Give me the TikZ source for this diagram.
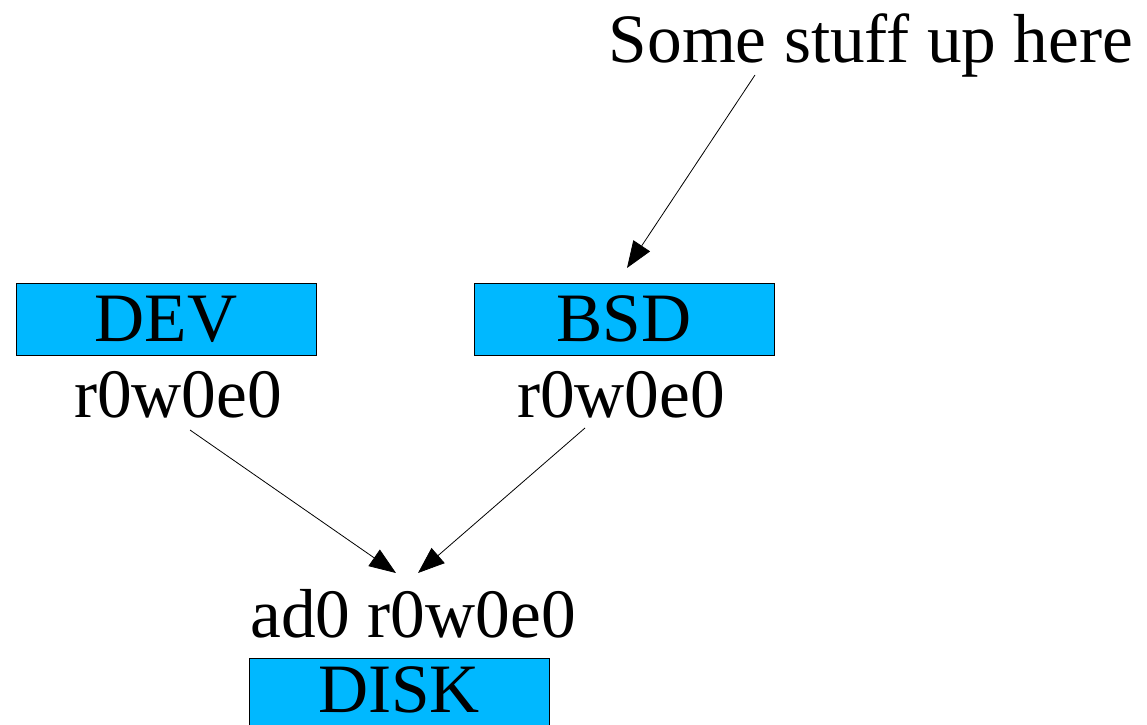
\documentclass[tikz,border=0pt]{standalone}
\usepackage{fontspec}
\setmainfont{Liberation Serif}
\usetikzlibrary{arrows.meta}

\definecolor{boxblue}{RGB}{0,184,255}

\tikzset{every picture/.style={line width=0.75pt}}
\tikzset{
  bigtext/.style={font=\fontsize{52}{60}\selectfont, inner sep=0pt, anchor=base},
  devbox/.style={draw=black, line width=0.5pt, fill=boxblue, minimum width=225pt, minimum height=54pt, inner sep=0pt, font=\fontsize{52}{60}\selectfont},
  arr/.style={-{Triangle[length=20pt,width=15pt]}, line width=0.6pt}
}

\begin{document}
\begin{tikzpicture}[x=0.75pt,y=0.75pt,yscale=-1,xscale=1]
\useasboundingbox (0,0) rectangle (1147,725);

%Shape: Rectangle [DEV]
\node [devbox] (dev) at (166,319) {DEV};
%Shape: Rectangle [BSD]
\node [devbox] (bsd) at (624,319) {BSD};
%Shape: Rectangle [DISK], runs past the bottom edge
\node [devbox] (disk) at (399,694) {};
% Text Node
\node [bigtext] (disktext) at (399,712) {DISK};

% Text Node
\node [bigtext] (stuff) at (871,62) {Some stuff up here};
% Text Node
\node [bigtext] (devname) at (178,417) {r0w0e0};
% Text Node
\node [bigtext] (bsdname) at (621,417) {r0w0e0};
% Text Node
\node [bigtext] (diskname) at (413,637) {ad0 r0w0e0};

% arrow ends
\coordinate (stufftail) at (755,75);
\coordinate (bsdtip) at (627,268);
\coordinate (devtail) at (190,430);
\coordinate (bsdtail) at (585,428);
\coordinate (disktipl) at (396,573);
\coordinate (disktipr) at (418,573);

%Straight Lines
\draw [arr] (stufftail) -- (bsdtip);
%Straight Lines
\draw [arr] (devtail) -- (disktipl);
%Straight Lines
\draw [arr] (bsdtail) -- (disktipr);

\end{tikzpicture}
\end{document}
